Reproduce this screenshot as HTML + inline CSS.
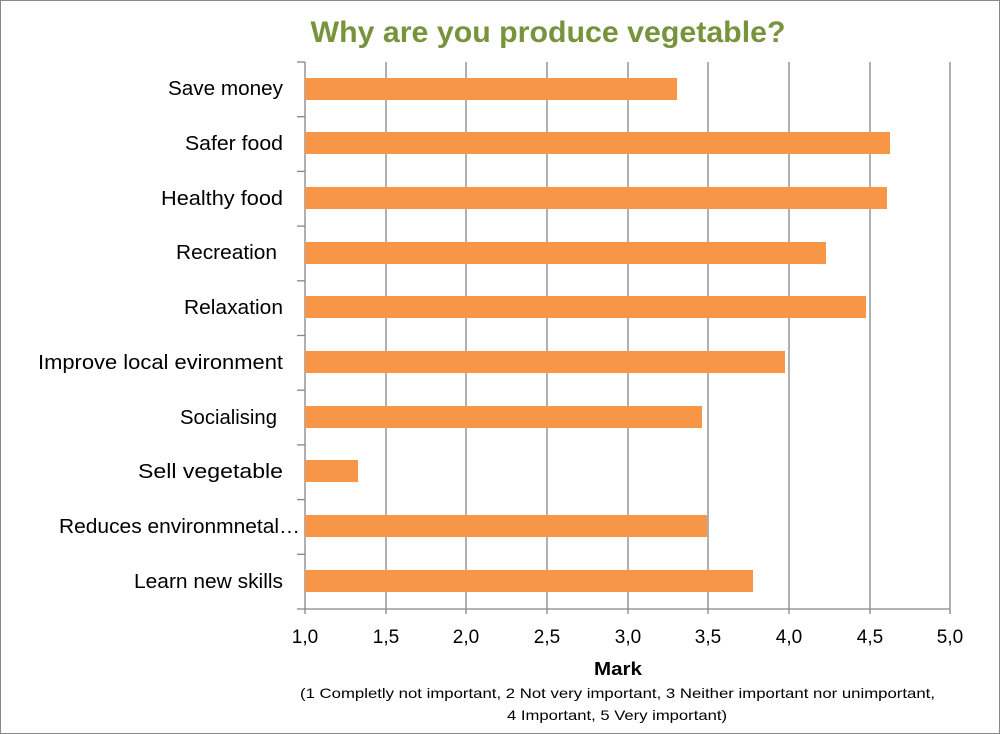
<!DOCTYPE html>
<html><head><meta charset="utf-8"><style>
body{margin:0;background:#fff}
svg{display:block;font-family:"Liberation Sans",sans-serif}
</style></head><body>
<svg width="1000" height="734" viewBox="0 0 1000 734">
<rect x="0.5" y="0.5" width="999" height="733" fill="#fff" stroke="#888"/>
<text x="548" y="42" text-anchor="middle" font-size="30" font-weight="bold" fill="#77933C" textLength="475" lengthAdjust="spacingAndGlyphs">Why are you produce vegetable?</text>
<g stroke="#868686" stroke-width="1.3">
<line x1="386" y1="62" x2="386" y2="614"/><line x1="466" y1="62" x2="466" y2="614"/>
<line x1="547" y1="62" x2="547" y2="614"/><line x1="628" y1="62" x2="628" y2="614"/>
<line x1="708" y1="62" x2="708" y2="614"/><line x1="789" y1="62" x2="789" y2="614"/>
<line x1="870" y1="62" x2="870" y2="614"/><line x1="950" y1="62" x2="950" y2="614"/>
<line x1="305" y1="62" x2="305" y2="614"/>
<line x1="297" y1="609" x2="950" y2="609"/>
<line x1="297" y1="62" x2="305" y2="62"/><line x1="297" y1="116.7" x2="305" y2="116.7"/>
<line x1="297" y1="171.4" x2="305" y2="171.4"/><line x1="297" y1="226.1" x2="305" y2="226.1"/>
<line x1="297" y1="280.8" x2="305" y2="280.8"/><line x1="297" y1="335.5" x2="305" y2="335.5"/>
<line x1="297" y1="390.2" x2="305" y2="390.2"/><line x1="297" y1="444.9" x2="305" y2="444.9"/>
<line x1="297" y1="499.6" x2="305" y2="499.6"/><line x1="297" y1="554.3" x2="305" y2="554.3"/>
</g>
<g fill="#F79646">
<rect x="305" y="78" width="372" height="22"/>
<rect x="305" y="132" width="585" height="22"/>
<rect x="305" y="187" width="582" height="22"/>
<rect x="305" y="242" width="521" height="22"/>
<rect x="305" y="296" width="561" height="22"/>
<rect x="305" y="351" width="480" height="22"/>
<rect x="305" y="406" width="397" height="22"/>
<rect x="305" y="460" width="53" height="22"/>
<rect x="305" y="515" width="402" height="22"/>
<rect x="305" y="570" width="448" height="22"/>
</g>
<g font-size="20" fill="#000" lengthAdjust="spacingAndGlyphs">
<text x="168" y="95" textLength="115" lengthAdjust="spacingAndGlyphs">Save money</text>
<text x="185" y="150" textLength="98" lengthAdjust="spacingAndGlyphs">Safer food</text>
<text x="161" y="205" textLength="122" lengthAdjust="spacingAndGlyphs">Healthy food</text>
<text x="176" y="259" textLength="101" lengthAdjust="spacingAndGlyphs">Recreation</text>
<text x="184" y="314" textLength="99" lengthAdjust="spacingAndGlyphs">Relaxation</text>
<text x="38" y="369" textLength="245" lengthAdjust="spacingAndGlyphs">Improve local evironment</text>
<text x="180" y="424" textLength="97" lengthAdjust="spacingAndGlyphs">Socialising</text>
<text x="138" y="478" textLength="145" lengthAdjust="spacingAndGlyphs">Sell vegetable</text>
<text x="59" y="533" textLength="241" lengthAdjust="spacingAndGlyphs">Reduces environmnetal…</text>
<text x="134" y="588" textLength="149" lengthAdjust="spacingAndGlyphs">Learn new skills</text>
</g>
<g font-size="19" fill="#000" text-anchor="middle">
<text x="305" y="643">1,0</text><text x="386" y="643">1,5</text><text x="466" y="643">2,0</text>
<text x="547" y="643">2,5</text><text x="628" y="643">3,0</text><text x="708" y="643">3,5</text>
<text x="789" y="643">4,0</text><text x="870" y="643">4,5</text><text x="950" y="643">5,0</text>
</g>
<g fill="#000">
<text x="594" y="675" font-weight="bold" font-size="18" textLength="48" lengthAdjust="spacingAndGlyphs">Mark</text>
<text x="300" y="698" font-size="14" textLength="635" lengthAdjust="spacingAndGlyphs">(1 Completly not important, 2 Not very important, 3 Neither important nor unimportant,</text>
<text x="507" y="720" font-size="14" textLength="220" lengthAdjust="spacingAndGlyphs">4 Important, 5 Very important)</text>
</g>
</svg>
</body></html>
